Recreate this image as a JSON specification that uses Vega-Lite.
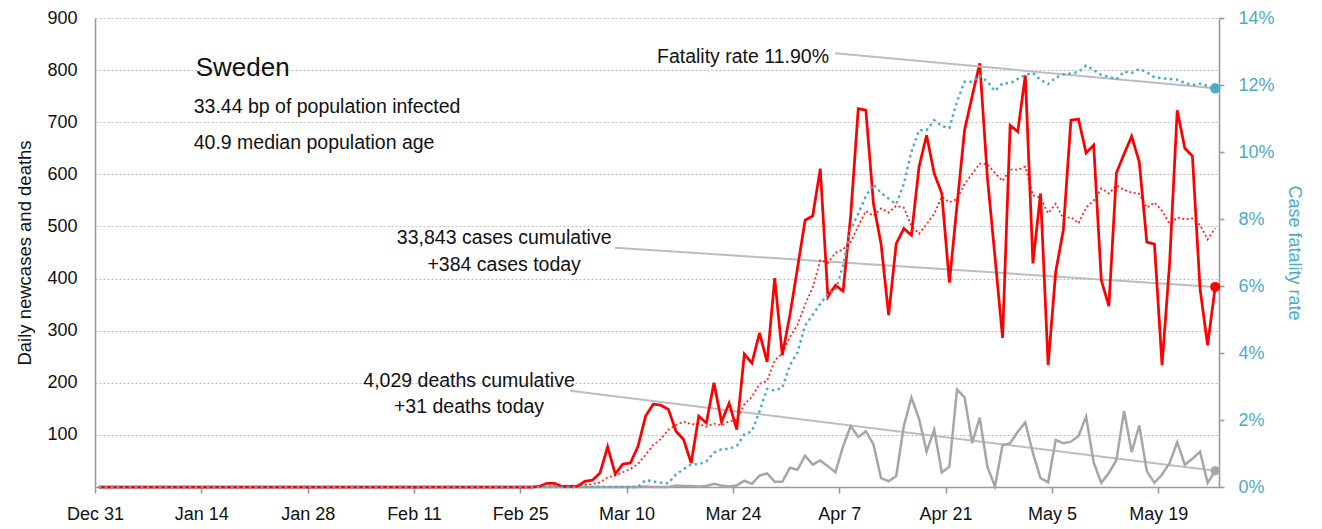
{
 "$schema": "https://vega.github.io/schema/vega-lite/v6.json",
 "width": 1124,
 "height": 469,
 "autosize": {"type": "none"},
 "padding": {"left": 95, "top": 18, "right": 103, "bottom": 42},
 "background": "#ffffff",
 "config": {
  "font": "Liberation Sans",
  "view": {"stroke": null},
  "axis": {
   "labelFont": "Liberation Sans",
   "titleFont": "Liberation Sans",
   "labelFontSize": 18, "titleFontSize": 18.5, "titleFontWeight": "normal",
   "labelColor": "#111111", "titleColor": "#111111",
   "domainColor": "#9a9a9a", "domainWidth": 1.6, "tickColor": "#9a9a9a", "tickWidth": 1.6
  }
 },
 "datasets": {
  "daily": [
   {"date":"2019-12-31","cases":0,"avg":0,"deaths":0,"cfr":0},
   {"date":"2020-01-01","cases":0,"avg":0,"deaths":0,"cfr":0},
   {"date":"2020-01-02","cases":0,"avg":0,"deaths":0,"cfr":0},
   {"date":"2020-01-03","cases":0,"avg":0,"deaths":0,"cfr":0},
   {"date":"2020-01-04","cases":0,"avg":0,"deaths":0,"cfr":0},
   {"date":"2020-01-05","cases":0,"avg":0,"deaths":0,"cfr":0},
   {"date":"2020-01-06","cases":0,"avg":0,"deaths":0,"cfr":0},
   {"date":"2020-01-07","cases":0,"avg":0,"deaths":0,"cfr":0},
   {"date":"2020-01-08","cases":0,"avg":0,"deaths":0,"cfr":0},
   {"date":"2020-01-09","cases":0,"avg":0,"deaths":0,"cfr":0},
   {"date":"2020-01-10","cases":0,"avg":0,"deaths":0,"cfr":0},
   {"date":"2020-01-11","cases":0,"avg":0,"deaths":0,"cfr":0},
   {"date":"2020-01-12","cases":0,"avg":0,"deaths":0,"cfr":0},
   {"date":"2020-01-13","cases":0,"avg":0,"deaths":0,"cfr":0},
   {"date":"2020-01-14","cases":0,"avg":0,"deaths":0,"cfr":0},
   {"date":"2020-01-15","cases":0,"avg":0,"deaths":0,"cfr":0},
   {"date":"2020-01-16","cases":0,"avg":0,"deaths":0,"cfr":0},
   {"date":"2020-01-17","cases":0,"avg":0,"deaths":0,"cfr":0},
   {"date":"2020-01-18","cases":0,"avg":0,"deaths":0,"cfr":0},
   {"date":"2020-01-19","cases":0,"avg":0,"deaths":0,"cfr":0},
   {"date":"2020-01-20","cases":0,"avg":0,"deaths":0,"cfr":0},
   {"date":"2020-01-21","cases":0,"avg":0,"deaths":0,"cfr":0},
   {"date":"2020-01-22","cases":0,"avg":0,"deaths":0,"cfr":0},
   {"date":"2020-01-23","cases":0,"avg":0,"deaths":0,"cfr":0},
   {"date":"2020-01-24","cases":0,"avg":0,"deaths":0,"cfr":0},
   {"date":"2020-01-25","cases":0,"avg":0,"deaths":0,"cfr":0},
   {"date":"2020-01-26","cases":0,"avg":0,"deaths":0,"cfr":0},
   {"date":"2020-01-27","cases":0,"avg":0,"deaths":0,"cfr":0},
   {"date":"2020-01-28","cases":0,"avg":0,"deaths":0,"cfr":0},
   {"date":"2020-01-29","cases":0,"avg":0,"deaths":0,"cfr":0},
   {"date":"2020-01-30","cases":0,"avg":0,"deaths":0,"cfr":0},
   {"date":"2020-01-31","cases":0,"avg":0,"deaths":0,"cfr":0},
   {"date":"2020-02-01","cases":0,"avg":0,"deaths":0,"cfr":0},
   {"date":"2020-02-02","cases":0,"avg":0,"deaths":0,"cfr":0},
   {"date":"2020-02-03","cases":0,"avg":0,"deaths":0,"cfr":0},
   {"date":"2020-02-04","cases":0,"avg":0,"deaths":0,"cfr":0},
   {"date":"2020-02-05","cases":0,"avg":0,"deaths":0,"cfr":0},
   {"date":"2020-02-06","cases":0,"avg":0,"deaths":0,"cfr":0},
   {"date":"2020-02-07","cases":0,"avg":0,"deaths":0,"cfr":0},
   {"date":"2020-02-08","cases":0,"avg":0,"deaths":0,"cfr":0},
   {"date":"2020-02-09","cases":0,"avg":0,"deaths":0,"cfr":0},
   {"date":"2020-02-10","cases":0,"avg":0,"deaths":0,"cfr":0},
   {"date":"2020-02-11","cases":0,"avg":0,"deaths":0,"cfr":0},
   {"date":"2020-02-12","cases":0,"avg":0,"deaths":0,"cfr":0},
   {"date":"2020-02-13","cases":0,"avg":0,"deaths":0,"cfr":0},
   {"date":"2020-02-14","cases":0,"avg":0,"deaths":0,"cfr":0},
   {"date":"2020-02-15","cases":0,"avg":0,"deaths":0,"cfr":0},
   {"date":"2020-02-16","cases":0,"avg":0,"deaths":0,"cfr":0},
   {"date":"2020-02-17","cases":0,"avg":0,"deaths":0,"cfr":0},
   {"date":"2020-02-18","cases":0,"avg":0,"deaths":0,"cfr":0},
   {"date":"2020-02-19","cases":0,"avg":0,"deaths":0,"cfr":0},
   {"date":"2020-02-20","cases":0,"avg":0,"deaths":0,"cfr":0},
   {"date":"2020-02-21","cases":0,"avg":0,"deaths":0,"cfr":0},
   {"date":"2020-02-22","cases":0,"avg":0,"deaths":0,"cfr":0},
   {"date":"2020-02-23","cases":0,"avg":0,"deaths":0,"cfr":0},
   {"date":"2020-02-24","cases":0,"avg":0,"deaths":0,"cfr":0},
   {"date":"2020-02-25","cases":0,"avg":0,"deaths":0,"cfr":0},
   {"date":"2020-02-26","cases":0,"avg":0,"deaths":0,"cfr":0},
   {"date":"2020-02-27","cases":1,"avg":0.1,"deaths":0,"cfr":0},
   {"date":"2020-02-28","cases":7,"avg":1.1,"deaths":0,"cfr":0},
   {"date":"2020-02-29","cases":7,"avg":2.1,"deaths":0,"cfr":0},
   {"date":"2020-03-01","cases":1,"avg":2.3,"deaths":0,"cfr":0},
   {"date":"2020-03-02","cases":1,"avg":2.4,"deaths":0,"cfr":0},
   {"date":"2020-03-03","cases":1,"avg":2.6,"deaths":0,"cfr":0},
   {"date":"2020-03-04","cases":11,"avg":4.1,"deaths":0,"cfr":0},
   {"date":"2020-03-05","cases":13,"avg":5.9,"deaths":0,"cfr":0},
   {"date":"2020-03-06","cases":27,"avg":8.7,"deaths":0,"cfr":0},
   {"date":"2020-03-07","cases":77,"avg":18.7,"deaths":0,"cfr":0},
   {"date":"2020-03-08","cases":25,"avg":22.1,"deaths":0,"cfr":0},
   {"date":"2020-03-09","cases":44,"avg":28.3,"deaths":0,"cfr":0},
   {"date":"2020-03-10","cases":46,"avg":34.7,"deaths":0,"cfr":0},
   {"date":"2020-03-11","cases":78,"avg":44.3,"deaths":0,"cfr":0},
   {"date":"2020-03-12","cases":136,"avg":61.9,"deaths":1,"cfr":0.0021},
   {"date":"2020-03-13","cases":159,"avg":80.7,"deaths":0,"cfr":0.0016},
   {"date":"2020-03-14","cases":157,"avg":92.1,"deaths":0,"cfr":0.0013},
   {"date":"2020-03-15","cases":149,"avg":109.9,"deaths":0,"cfr":0.0011},
   {"date":"2020-03-16","cases":107,"avg":118.9,"deaths":3,"cfr":0.0038},
   {"date":"2020-03-17","cases":91,"avg":125.3,"deaths":2,"cfr":0.0053},
   {"date":"2020-03-18","cases":46,"avg":120.7,"deaths":2,"cfr":0.0068},
   {"date":"2020-03-19","cases":136,"avg":120.7,"deaths":1,"cfr":0.0068},
   {"date":"2020-03-20","cases":123,"avg":115.6,"deaths":2,"cfr":0.0076},
   {"date":"2020-03-21","cases":200,"avg":121.7,"deaths":6,"cfr":0.0103},
   {"date":"2020-03-22","cases":125,"avg":118.3,"deaths":3,"cfr":0.0113},
   {"date":"2020-03-23","cases":161,"avg":126,"deaths":1,"cfr":0.0114},
   {"date":"2020-03-24","cases":110,"avg":128.7,"deaths":3,"cfr":0.0123},
   {"date":"2020-03-25","cases":255,"avg":158.6,"deaths":12,"cfr":0.0157},
   {"date":"2020-03-26","cases":238,"avg":173.1,"deaths":6,"cfr":0.0166},
   {"date":"2020-03-27","cases":296,"avg":197.9,"deaths":22,"cfr":0.0226},
   {"date":"2020-03-28","cases":240,"avg":203.6,"deaths":26,"cfr":0.0293},
   {"date":"2020-03-29","cases":401,"avg":243,"deaths":10,"cfr":0.0288},
   {"date":"2020-03-30","cases":253,"avg":256.1,"deaths":10,"cfr":0.0296},
   {"date":"2020-03-31","cases":330,"avg":287.6,"deaths":37,"cfr":0.0363},
   {"date":"2020-04-01","cases":420,"avg":311.1,"deaths":33,"cfr":0.0402},
   {"date":"2020-04-02","cases":512,"avg":350.3,"deaths":60,"cfr":0.0482},
   {"date":"2020-04-03","cases":520,"avg":382.3,"deaths":43,"cfr":0.0514},
   {"date":"2020-04-04","cases":611,"avg":435.3,"deaths":51,"cfr":0.0547},
   {"date":"2020-04-05","cases":365,"avg":430.1,"deaths":40,"cfr":0.0577},
   {"date":"2020-04-06","cases":387,"avg":449.3,"deaths":28,"cfr":0.0585},
   {"date":"2020-04-07","cases":376,"avg":455.9,"deaths":78,"cfr":0.0662},
   {"date":"2020-04-08","cases":520,"avg":470.1,"deaths":117,"cfr":0.0769},
   {"date":"2020-04-09","cases":726,"avg":500.7,"deaths":96,"cfr":0.0816},
   {"date":"2020-04-10","cases":723,"avg":529.7,"deaths":107,"cfr":0.0868},
   {"date":"2020-04-11","cases":544,"avg":520.1,"deaths":82,"cfr":0.0903},
   {"date":"2020-04-12","cases":467,"avg":534.7,"deaths":17,"cfr":0.0878},
   {"date":"2020-04-13","cases":330,"avg":526.6,"deaths":11,"cfr":0.0861},
   {"date":"2020-04-14","cases":467,"avg":539.6,"deaths":21,"cfr":0.0844},
   {"date":"2020-04-15","cases":496,"avg":536.1,"deaths":117,"cfr":0.0905},
   {"date":"2020-04-16","cases":483,"avg":501.4,"deaths":172,"cfr":0.1000},
   {"date":"2020-04-17","cases":614,"avg":485.9,"deaths":131,"cfr":0.1065},
   {"date":"2020-04-18","cases":675,"avg":504.6,"deaths":68,"cfr":0.1065},
   {"date":"2020-04-19","cases":602,"avg":523.9,"deaths":110,"cfr":0.1095},
   {"date":"2020-04-20","cases":563,"avg":557.1,"deaths":28,"cfr":0.1077},
   {"date":"2020-04-21","cases":392,"avg":546.4,"deaths":39,"cfr":0.1072},
   {"date":"2020-04-22","cases":540,"avg":552.7,"deaths":187,"cfr":0.1150},
   {"date":"2020-04-23","cases":685,"avg":581.6,"deaths":172,"cfr":0.1210},
   {"date":"2020-04-24","cases":750,"avg":601,"deaths":84,"cfr":0.1210},
   {"date":"2020-04-25","cases":813,"avg":620.7,"deaths":133,"cfr":0.1228},
   {"date":"2020-04-26","cases":595,"avg":619.7,"deaths":39,"cfr":0.1210},
   {"date":"2020-04-27","cases":442,"avg":602.4,"deaths":1,"cfr":0.1182},
   {"date":"2020-04-28","cases":286,"avg":587.3,"deaths":80,"cfr":0.1205},
   {"date":"2020-04-29","cases":694,"avg":609.3,"deaths":84,"cfr":0.1205},
   {"date":"2020-04-30","cases":682,"avg":608.9,"deaths":106,"cfr":0.1218},
   {"date":"2020-05-01","cases":790,"avg":614.6,"deaths":124,"cfr":0.1230},
   {"date":"2020-05-02","cases":429,"avg":559.7,"deaths":65,"cfr":0.1236},
   {"date":"2020-05-03","cases":563,"avg":555.1,"deaths":17,"cfr":0.1215},
   {"date":"2020-05-04","cases":234,"avg":525.4,"deaths":9,"cfr":0.1203},
   {"date":"2020-05-05","cases":413,"avg":543.6,"deaths":90,"cfr":0.1222},
   {"date":"2020-05-06","cases":493,"avg":514.9,"deaths":84,"cfr":0.1232},
   {"date":"2020-05-07","cases":704,"avg":518,"deaths":87,"cfr":0.1234},
   {"date":"2020-05-08","cases":706,"avg":506,"deaths":98,"cfr":0.1239},
   {"date":"2020-05-09","cases":641,"avg":536.3,"deaths":135,"cfr":0.1258},
   {"date":"2020-05-10","cases":656,"avg":549.6,"deaths":47,"cfr":0.1245},
   {"date":"2020-05-11","cases":397,"avg":572.9,"deaths":8,"cfr":0.1230},
   {"date":"2020-05-12","cases":347,"avg":563.4,"deaths":27,"cfr":0.1224},
   {"date":"2020-05-13","cases":603,"avg":579.1,"deaths":52,"cfr":0.1217},
   {"date":"2020-05-14","cases":639,"avg":569.9,"deaths":146,"cfr":0.1240},
   {"date":"2020-05-15","cases":673,"avg":565.1,"deaths":67,"cfr":0.1236},
   {"date":"2020-05-16","cases":624,"avg":562.7,"deaths":118,"cfr":0.1248},
   {"date":"2020-05-17","cases":470,"avg":536.1,"deaths":30,"cfr":0.1238},
   {"date":"2020-05-18","cases":466,"avg":546,"deaths":8,"cfr":0.1223},
   {"date":"2020-05-19","cases":234,"avg":529.9,"deaths":24,"cfr":0.1220},
   {"date":"2020-05-20","cases":430,"avg":505.1,"deaths":46,"cfr":0.1218},
   {"date":"2020-05-21","cases":723,"avg":517.1,"deaths":86,"cfr":0.1216},
   {"date":"2020-05-22","cases":650,"avg":513.9,"deaths":43,"cfr":0.1206},
   {"date":"2020-05-23","cases":635,"avg":515.4,"deaths":54,"cfr":0.1200},
   {"date":"2020-05-24","cases":381,"avg":502.7,"deaths":68,"cfr":0.1204},
   {"date":"2020-05-25","cases":272,"avg":475,"deaths":8,"cfr":0.1197},
   {"date":"2020-05-26","cases":384,"avg":496.4,"deaths":31,"cfr":0.1190}
  ],
  "notes": [
   {"axis":"left","start":"2020-03-08T11:30:00Z","v":459.2,"end":"2020-05-26T12:00:00Z","v2":384},
   {"axis":"left","start":"2020-03-02T13:30:00Z","v":184.8,"end":"2020-05-26T12:00:00Z","v2":31},
   {"axis":"right","start":"2020-04-06T11:00:00Z","v":0.1295,"end":"2020-05-26T12:00:00Z","v2":0.119}
  ],
  "labels": [
   {"kind":"title","date":"2020-01-13T06:00:00Z","v":788.7,"text":"Sweden"},
   {"kind":"sub","date":"2020-01-13T00:00:00Z","v":717.4,"text":"33.44 bp of population infected"},
   {"kind":"sub","date":"2020-01-13T00:00:00Z","v":648.6,"text":"40.9 median population age"},
   {"kind":"center","date":"2020-02-22T21:00:00Z","v":465.8,"text":"33,843 cases cumulative"},
   {"kind":"center","date":"2020-02-22T21:00:00Z","v":414.5,"text":"+384 cases today"},
   {"kind":"center","date":"2020-02-18T06:00:00Z","v":192.5,"text":"4,029 deaths cumulative"},
   {"kind":"center","date":"2020-02-18T06:00:00Z","v":142,"text":"+31 deaths today"},
   {"kind":"left","date":"2020-03-14T00:00:00Z","v":813.7,"text":"Fatality rate 11.90%"}
  ]
 },
 "resolve": {"scale": {"y": "independent"}},
 "layer": [
  {
   "layer": [
    {
     "data": {"name": "notes"},
     "transform": [{"filter": "datum.axis === 'left'"}],
     "mark": {"type": "rule", "color": "#BDBDBD", "strokeWidth": 2},
     "encoding": {
      "x": {"field": "start", "type": "temporal", "title": null,
            "scale": {"type": "utc", "nice": false,
                      "domain": [{"year": 2019, "month": 12, "date": 31, "utc": true}, {"year": 2020, "month": 5, "date": 27, "utc": true}]},
            "axis": {"orient": "bottom", "values": [
               {"year": 2019, "month": 12, "date": 31, "utc": true},
               {"year": 2020, "month": 1, "date": 14, "utc": true},
               {"year": 2020, "month": 1, "date": 28, "utc": true},
               {"year": 2020, "month": 2, "date": 11, "utc": true},
               {"year": 2020, "month": 2, "date": 25, "utc": true},
               {"year": 2020, "month": 3, "date": 10, "utc": true},
               {"year": 2020, "month": 3, "date": 24, "utc": true},
               {"year": 2020, "month": 4, "date": 7, "utc": true},
               {"year": 2020, "month": 4, "date": 21, "utc": true},
               {"year": 2020, "month": 5, "date": 5, "utc": true},
               {"year": 2020, "month": 5, "date": 19, "utc": true}],
               "format": "%b %-d", "formatType": "utc",
               "labelExpr": "utcFormat(datum.value, '%b %-d')",
               "title": null, "tickSize": 6,
               "labelPadding": 12, "grid": false, "labelOverlap": false, "labelFlush": false}},
      "x2": {"field": "end"},
      "y": {"field": "v", "type": "quantitative",
            "scale": {"domain": [0, 900], "nice": false, "zero": true},
            "axis": {"orient": "left", "values": [0,100,200,300,400,500,600,700,800,900],
                     "labelExpr": "datum.value === 0 ? '' : datum.label",
                     "ticks": false, "labelPadding": 18, "grid": true, "gridDash": [2, 2],
                     "gridColor": "#BDBDBD", "gridWidth": 1,
                     "title": "Daily newcases and deaths", "titlePadding": 12}},
      "y2": {"field": "v2"}
     }
    },
    {
     "data": {"name": "daily"},
     "mark": {"type": "line", "color": "#FF2020", "strokeWidth": 1.75, "strokeDash": [2, 2.5]},
     "encoding": {
      "x": {"field": "date", "type": "temporal", "timeUnit": "utcyearmonthdate", "bandPosition": 0.5, "scale": {"type": "utc"}, "title": null},
      "y": {"field": "avg", "type": "quantitative"}
     }
    },
    {
     "data": {"name": "daily"},
     "mark": {"type": "line", "color": "#A6A6A6", "strokeWidth": 2.5},
     "encoding": {
      "x": {"field": "date", "type": "temporal", "timeUnit": "utcyearmonthdate", "bandPosition": 0.5, "scale": {"type": "utc"}, "title": null},
      "y": {"field": "deaths", "type": "quantitative"}
     }
    },
    {
     "data": {"name": "daily"},
     "mark": {"type": "line", "color": "#FF0000", "strokeWidth": 2.75},
     "encoding": {
      "x": {"field": "date", "type": "temporal", "timeUnit": "utcyearmonthdate", "bandPosition": 0.5, "scale": {"type": "utc"}, "title": null},
      "y": {"field": "cases", "type": "quantitative"}
     }
    },
    {
     "data": {"name": "daily"},
     "transform": [{"filter": "time(datum.date) === utc(2020, 4, 26)"}],
     "mark": {"type": "point", "filled": true, "opacity": 1, "color": "#FF0000", "size": 100},
     "encoding": {
      "x": {"field": "date", "type": "temporal", "timeUnit": "utcyearmonthdate", "bandPosition": 0.5, "scale": {"type": "utc"}, "title": null},
      "y": {"field": "cases", "type": "quantitative"}
     }
    },
    {
     "data": {"name": "daily"},
     "transform": [{"filter": "time(datum.date) === utc(2020, 4, 26)"}],
     "mark": {"type": "point", "filled": true, "opacity": 1, "color": "#A6A6A6", "size": 85},
     "encoding": {
      "x": {"field": "date", "type": "temporal", "timeUnit": "utcyearmonthdate", "bandPosition": 0.5, "scale": {"type": "utc"}, "title": null},
      "y": {"field": "deaths", "type": "quantitative"}
     }
    },
    {
     "data": {"name": "labels"},
     "transform": [{"filter": "datum.kind === 'title'"}],
     "mark": {"type": "text", "align": "left", "baseline": "alphabetic", "fontSize": 26, "color": "#111111"},
     "encoding": {
      "x": {"field": "date", "type": "temporal", "scale": {"type": "utc"}, "title": null},
      "y": {"field": "v", "type": "quantitative"},
      "text": {"field": "text"}
     }
    },
    {
     "data": {"name": "labels"},
     "transform": [{"filter": "datum.kind === 'sub' || datum.kind === 'left'"}],
     "mark": {"type": "text", "align": "left", "baseline": "alphabetic", "fontSize": 19.5, "color": "#111111"},
     "encoding": {
      "x": {"field": "date", "type": "temporal", "scale": {"type": "utc"}, "title": null},
      "y": {"field": "v", "type": "quantitative"},
      "text": {"field": "text"}
     }
    },
    {
     "data": {"name": "labels"},
     "transform": [{"filter": "datum.kind === 'center'"}],
     "mark": {"type": "text", "align": "center", "baseline": "alphabetic", "fontSize": 19.5, "color": "#111111"},
     "encoding": {
      "x": {"field": "date", "type": "temporal", "scale": {"type": "utc"}, "title": null},
      "y": {"field": "v", "type": "quantitative"},
      "text": {"field": "text"}
     }
    }
   ]
  },
  {
   "layer": [
    {
     "data": {"name": "notes"},
     "transform": [{"filter": "datum.axis === 'right'"}],
     "mark": {"type": "rule", "color": "#BDBDBD", "strokeWidth": 2},
     "encoding": {
      "x": {"field": "start", "type": "temporal", "scale": {"type": "utc"}, "title": null},
      "x2": {"field": "end"},
      "y": {"field": "v", "type": "quantitative",
            "scale": {"domain": [0, 0.14], "nice": false, "zero": true},
            "axis": {"orient": "right", "values": [0, 0.02, 0.04, 0.06, 0.08, 0.1, 0.12, 0.14],
                     "format": ".0%", "labelColor": "#4BACC6", "titleColor": "#4BACC6",
                     "title": "Case fatality rate", "grid": false, "tickSize": 5,
                     "labelPadding": 14, "titlePadding": 10, "titleFontSize": 18}},
      "y2": {"field": "v2"}
     }
    },
    {
     "data": {"name": "daily"},
     "mark": {"type": "line", "color": "#4BACC6", "strokeWidth": 2.5, "strokeDash": [2.5, 3.5]},
     "encoding": {
      "x": {"field": "date", "type": "temporal", "timeUnit": "utcyearmonthdate", "bandPosition": 0.5, "scale": {"type": "utc"}, "title": null},
      "y": {"field": "cfr", "type": "quantitative"}
     }
    },
    {
     "data": {"name": "daily"},
     "transform": [{"filter": "time(datum.date) === utc(2020, 4, 26)"}],
     "mark": {"type": "point", "filled": true, "opacity": 1, "color": "#4BACC6", "size": 110},
     "encoding": {
      "x": {"field": "date", "type": "temporal", "timeUnit": "utcyearmonthdate", "bandPosition": 0.5, "scale": {"type": "utc"}, "title": null},
      "y": {"field": "cfr", "type": "quantitative"}
     }
    }
   ]
  }
 ]
}
